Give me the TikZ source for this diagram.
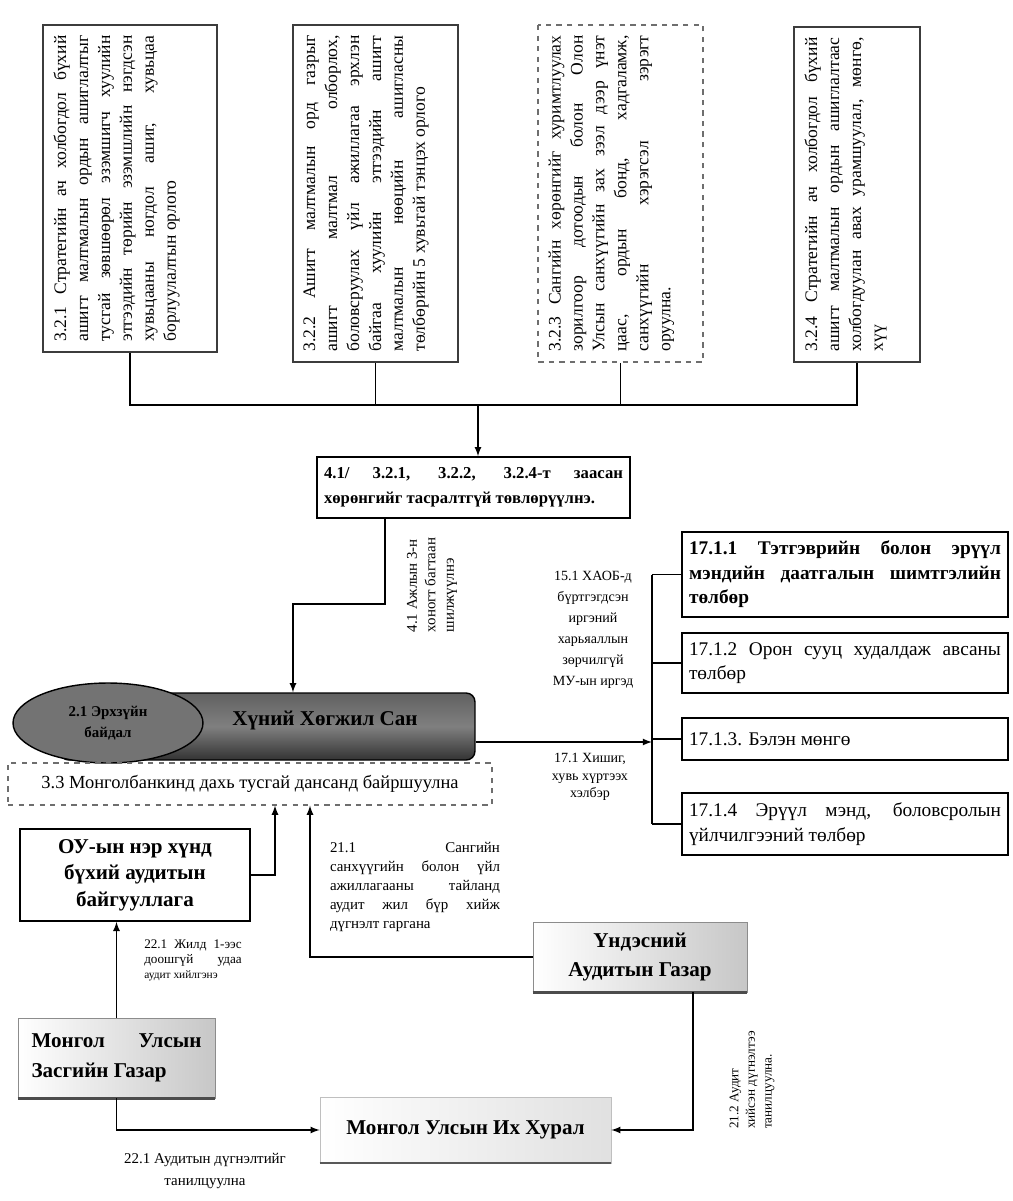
\documentclass[tikz,border=0pt]{standalone}
\usepackage{fontspec}
\setmainfont{Liberation Serif}
\usetikzlibrary{shapes.geometric,arrows,positioning}
\definecolor{FrameGray}{RGB}{60,60,60}
\definecolor{DashGray}{RGB}{110,110,110}

\begin{document}
\begin{tikzpicture}[
    x=0.02cm, y=-0.02cm,
    topbox/.style={draw=FrameGray, line width=0.9pt, rotate=90, inner sep=6pt, font=\fontsize{10}{12.5}\selectfont},
    box/.style={draw, line width=1pt, inner sep=4pt, align=justify},
    rbox/.style={draw, line width=1.2pt, inner sep=4pt, text width=6.24cm, align=justify, font=\fontsize{11}{14}\selectfont},
    sbox/.style={draw=black!45, left color=white, right color=black!22, align=center, font=\bfseries\fontsize{12}{17}\selectfont},
    lbl/.style={inner sep=1pt, align=center, font=\fontsize{8}{11}\selectfont},
    arr/.style={-latex, line width=0.8pt},
    conn/.style={line width=0.8pt}
  ]
    \useasboundingbox (0,0) rectangle (1012,1201);

    % Sources of the fund
    \node[topbox] (b1) at (130,188.5) {\parbox[c][3.06cm][t]{6.12cm}{3.2.1 Стратегийн ач холбогдол бүхий\linebreak ашигт малтмалын ордын ашиглалтыг\linebreak тусгай зөвшөөрөл эзэмшигч хуулийн\linebreak этгээдийн төрийн эзэмшлийн нэгдсэн\linebreak хувьцааны ногдол ашиг, хувьцаа\linebreak борлуулалтын орлого}};
    \node[topbox] (b2) at (375.5,193.5) {\parbox[c][2.88cm][t]{6.32cm}{3.2.2 Ашигт малтмалын орд газрыг\linebreak ашигт малтмал олборлох,\linebreak боловсруулах үйл ажиллагаа эрхлэн\linebreak байгаа хуулийн этгээдийн ашигт\linebreak малтмалын нөөцийн ашигласны\linebreak төлбөрийн 5 хувьтай тэнцэх орлого}};
    \node[topbox, draw=DashGray, dashed] (b3) at (620.5,193.5) {\parbox[c][2.88cm][t]{6.32cm}{3.2.3 Сангийн хөрөнгийг хуримтлуулах\linebreak зорилгоор дотоодын болон Олон\linebreak Улсын санхүүгийн зах зээл дээр үнэт\linebreak цаас, ордын бонд, хадгаламж,\linebreak санхүүгийн хэрэгсэл зэрэгт\linebreak оруулна.}};
    \node[topbox] (b4) at (857,194.5) {\parbox[c][2.1cm][t]{6.28cm}{3.2.4 Стратегийн ач холбогдол бүхий\linebreak ашигт малтмалын ордын ашиглалтаас\linebreak холбогдуулан авах урамшуулал, мөнгө,\linebreak хүү}};

    \coordinate (bus) at (478,405);
    \draw[conn] (b1.west) |- (bus);
    \draw[conn] (b4.west) |- (bus);
    \draw[conn] (b2.west) -- (b2.west |- bus);
    \draw[conn] (b3.west) -- (b3.west |- bus);

    \node[box, text width=5.98cm, minimum height=1.22cm, font=\bfseries\fontsize{9.5}{14}\selectfont] (k41) at (473.5,487.5) {4.1/ 3.2.1, 3.2.2, 3.2.4-т заасан\linebreak хөрөнгийг тасралтгүй төвлөрүүлнэ.};
    \draw[arr] (bus) -- (bus |- k41.north);

    \node[lbl, rotate=90, align=left, font=\fontsize{8.5}{10.5}\selectfont] (l41) at (432,585) {4.1 Ажлын 3-н\\хоногт багтаан\\шилжүүлнэ};

    % The fund
    \node[draw=black, line width=0.8pt, rounded corners=5pt, minimum width=8.3cm, minimum height=1.34cm,
          top color=black!62, bottom color=black!80, middle color=black!50] (fund) at (267.5,726.5) {};
    \node[font=\bfseries\fontsize{12}{14}\selectfont] (fundname) at (325,720) {Хүний Хөгжил Сан};
    \node[ellipse, draw=black, line width=0.8pt, fill=black!55, minimum width=3.8cm, minimum height=1.6cm, align=center,
          font=\bfseries\fontsize{8.5}{12}\selectfont] (legal) at (108,723) {2.1 Эрхзүйн\\байдал};
    \node[draw=DashGray, dashed, line width=0.7pt, minimum width=9.68cm, minimum height=0.84cm,
          font=\fontsize{10.5}{12}\selectfont] (dep) at (250,784) {3.3 Монголбанкинд дахь тусгай дансанд байршуулна};

    \draw[arr] ([xshift=-1.77cm]k41.south) -- ++(0,85) -| ([xshift=0.51cm]fund.north);

    % Distribution
    \node[rbox, font=\bfseries\fontsize{11}{14}\selectfont, minimum height=1.7cm] (r1) at (845,574.5) {17.1.1 Тэтгэврийн болон эрүүл\linebreak мэндийн даатгалын шимтгэлийн\linebreak төлбөр};
    \node[rbox, minimum height=1.2cm] (r2) at (845,663) {17.1.2 Орон сууц худалдаж авсаны\linebreak төлбөр};
    \node[rbox, minimum height=0.84cm] (r3) at (845,739) {17.1.3. Бэлэн мөнгө};
    \node[rbox, minimum height=1.24cm] (r4) at (845,824) {17.1.4 Эрүүл мэнд, боловсролын\linebreak үйлчилгээний төлбөр};

    \coordinate (split) at (652,742);
    \draw[arr] (fund.east |- split) -- (split);
    \draw[conn] (split |- r1.west) -- (split |- r4.west);
    \foreach \r in {r1,r2,r3,r4}
      \draw[conn] (split |- \r.west) -- (\r.west);

    \node[lbl, font=\fontsize{8}{12}\selectfont] (l151) at (593,630) {15.1 ХАОБ-д\\бүртгэгдсэн\\иргэний\\харьяаллын\\зөрчилгүй\\МУ-ын иргэд};
    \node[lbl, font=\fontsize{8}{10}\selectfont] (l171) at (590,777) {17.1 Хишиг,\\хувь хүртээх\\хэлбэр};

    % Audit and oversight
    \node[box, minimum width=4.6cm, minimum height=1.84cm, align=center, font=\bfseries\fontsize{12}{15}\selectfont] (intl) at (135,875) {ОУ-ын нэр хүнд\\бүхий аудитын\\байгууллага};
    \draw[arr] (intl.east) -| ([xshift=0.5cm]dep.south);

    \node[sbox, minimum width=4.28cm, minimum height=1.4cm] (nao) at (640,957) {Үндэсний\\Аудитын Газар};
    \draw[line width=1.4pt, black!70] (nao.south west) -- (nao.south east);
    \draw[arr] (nao.west) -| ([xshift=1.2cm]dep.south);

    \node[lbl, text width=3.4cm, align=justify, font=\fontsize{8.5}{10.8}\selectfont] (l211) at (415,887) {21.1 Сангийн\linebreak санхүүгийн болон үйл\linebreak ажиллагааны тайланд\linebreak аудит жил бүр хийж\linebreak дүгнэлт гаргана};

    \node[sbox, minimum width=3.94cm, minimum height=1.6cm, text width=3.4cm, align=justify] (gov) at (116.5,1058) {Монгол Улсын\linebreak Засгийн Газар};
    \draw[line width=1.4pt, black!70] (gov.south west) -- (gov.south east);
    \draw[arr] (gov.north) -- (gov.north |- intl.south);

    \node[lbl, text width=1.95cm, align=justify, font=\fontsize{7.5}{8.5}\selectfont] (l221a) at (193,960) {22.1 Жилд 1-ээс\linebreak доошгүй удаа\linebreak {\fontsize{6.5}{8}\selectfont аудит хийлгэнэ}};

    \node[sbox, draw=black!25, left color=white, right color=black!12, minimum width=5.82cm, minimum height=1.32cm] (parl) at (465.5,1130) {Монгол Улсын Их Хурал};
    \draw[line width=1.2pt, black!65] (parl.south west) -- (parl.south east);
    \draw[arr] (gov.south) |- (parl.west);
    \draw[arr] ([xshift=1.06cm]nao.south) |- (parl.east);

    \node[lbl, font=\fontsize{8.5}{12.5}\selectfont] (l221b) at (205,1171) {22.1 Аудитын дүгнэлтийг\\танилцуулна};
    \node[lbl, rotate=90, align=left, font=\fontsize{7.5}{9.5}\selectfont] (l212) at (752,1080) {21.2 Аудит\\хийсэн дүгнэлтээ\\танилцуулна.};
  \end{tikzpicture}
\end{document}
